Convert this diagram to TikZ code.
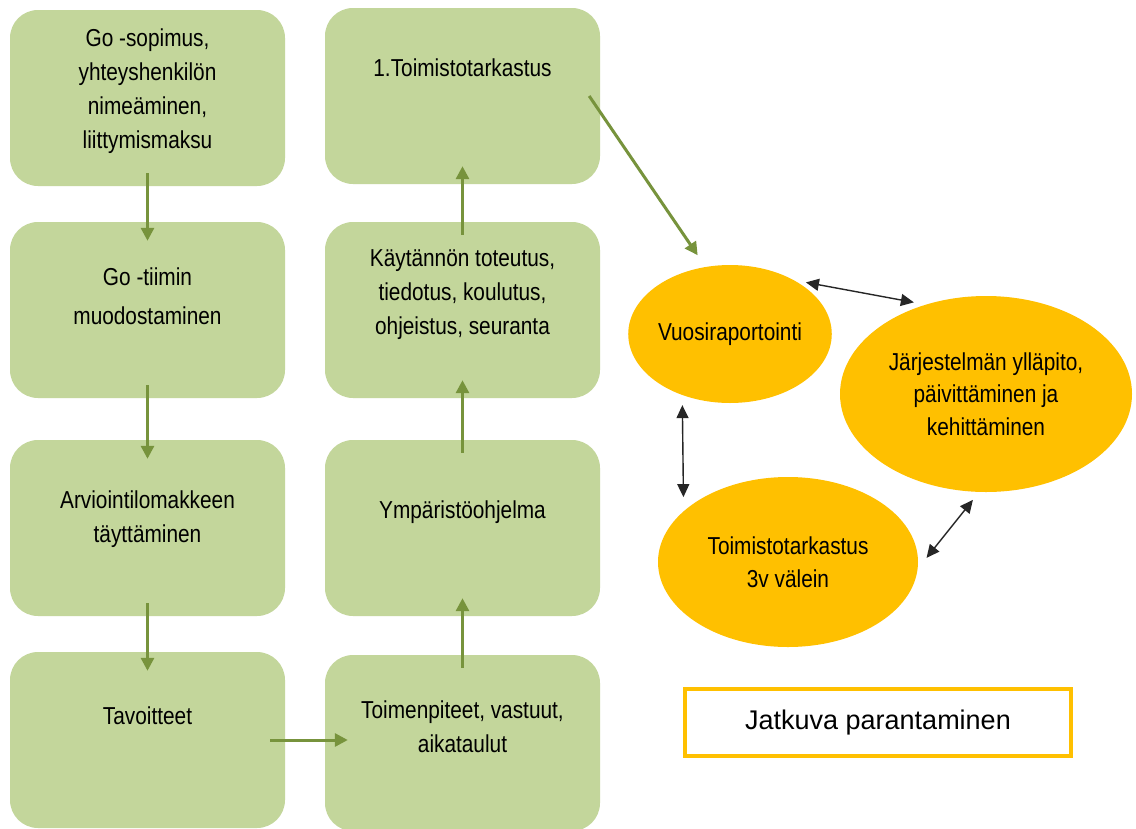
\documentclass[tikz,border=0pt]{standalone}
\usepackage{fontspec}
\setmainfont[FakeStretch=0.85]{Liberation Sans}
\newfontfamily\plainsans{Liberation Sans}
\usepackage{tikz}
\usetikzlibrary{arrows.meta,positioning,shapes.geometric}
\definecolor{boxgreen}{HTML}{C3D69B}
\definecolor{arrowgreen}{HTML}{77933C}
\definecolor{goldfill}{HTML}{FFC000}

\begin{document}
\begin{tikzpicture}[x=1pt, y=-1pt,
  stage/.style={rectangle, rounded corners=28pt, fill=boxgreen, minimum width=275pt, minimum height=176pt, inner sep=0pt},
  stagetext/.style={align=center, inner sep=0pt, font=\fontsize{24.5}{34}\selectfont},
  roundel/.style={ellipse, fill=goldfill, inner sep=0pt, align=center, font=\fontsize{24.5}{32.5}\selectfont},
  forward/.style={draw=arrowgreen, line width=3pt, -{Triangle[length=13pt,width=13pt]}},
  twoway/.style={draw=black!85, line width=1.4pt, {Triangle[length=13pt,width=12pt]}-{Triangle[length=13pt,width=12pt]}}]
\fill[white] (0,0) rectangle (1136,828);
\clip (0,0) rectangle (1136,828);

% left column
\node[stage] (go) at (147.5,98) {};
\node[stage] (team) at (147.5,310) {};
\node[stage] (arv) at (147.5,528) {};
\node[stage] (tav) at (147.5,740) {};
% right column
\node[stage] (toim1) at (462.5,96) {};
\node[stage] (kayt) at (462.5,310) {};
\node[stage] (ymp) at (462.5,528) {};
\node[stage] (toimen) at (462.5,743) {};

\node[stagetext, below=19pt of go.north] (go-t) {Go -sopimus,\\yhteyshenkilön\\nimeäminen,\\liittymismaksu};
\node[stagetext, below=46pt of team.north] (team-t) {Go -tiimin\\[5pt]muodostaminen};
\node[stagetext, below=51pt of arv.north] (arv-t) {Arviointilomakkeen\\täyttäminen};
\node[stagetext, below=55pt of tav.north] (tav-t) {Tavoitteet};
\node[stagetext, below=51pt of toim1.north] (toim1-t) {1.Toimistotarkastus};
\node[stagetext, below=28pt of kayt.north] (kayt-t) {Käytännön toteutus,\\tiedotus, koulutus,\\ohjeistus, seuranta};
\node[stagetext, below=61pt of ymp.north] (ymp-t) {Ympäristöohjelma};
\node[stagetext, below=46pt of toimen.north] (toimen-t) {Toimenpiteet, vastuut,\\aikataulut};

% cycle
\node[roundel, minimum width=200pt, minimum height=138pt] (vuosi) at (730,334) {Vuosiraportointi};
\node[roundel, minimum width=292pt, minimum height=196pt] (jarj) at (986,394) {Järjestelmän ylläpito,\\päivittäminen ja\\kehittäminen};
\node[roundel, minimum width=260pt, minimum height=170pt] (toim3) at (788,562) {Toimistotarkastus\\3v välein};

\node[draw=goldfill, line width=4pt, minimum width=386pt, minimum height=67pt, font=\plainsans\fontsize{27}{32}\selectfont] (jatk) at (878,722.5) {Jatkuva parantaminen};

% green flow
\draw[forward] ([yshift=13pt]go.south) -- ([yshift=-19pt]team.north);
\draw[forward] ([yshift=13pt]team.south) -- ([yshift=-19pt]arv.north);
\draw[forward] ([yshift=13pt]arv.south) -- ([yshift=-19pt]tav.north);
\draw[forward] ([xshift=-15pt]tav.east) -- ([xshift=23pt]tav.east -| toimen.west);
\draw[forward] ([yshift=-13pt]toimen.north) -- ([yshift=18pt]ymp.south);
\draw[forward] ([yshift=-13pt]ymp.north) -- ([yshift=18pt]kayt.south);
\draw[forward] ([yshift=-13pt]kayt.north) -- ([yshift=18pt]toim1.south);
\draw[forward, shorten >=14pt] ([xshift=-11pt]toim1.east) -- (vuosi.110);
% both ways
\draw[twoway, shorten <=12pt, shorten >=12pt] (vuosi.40) -- (jarj.124);
\draw[twoway, shorten <=10pt, shorten >=14pt] (vuosi.232) -- (toim3.154);
\draw[twoway, shorten <=14pt, shorten >=10pt] (toim3.-3) -- (jarj.266);
\end{tikzpicture}
\end{document}
